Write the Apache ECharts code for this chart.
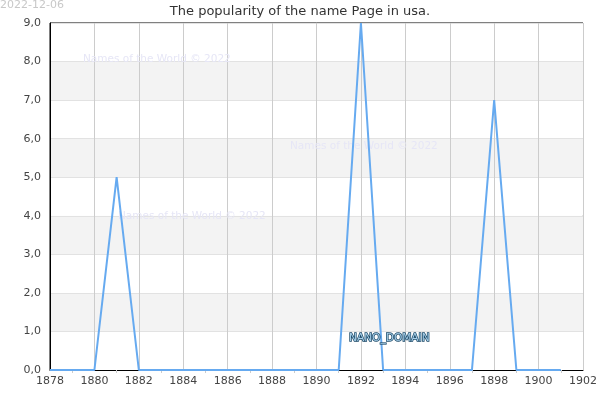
<!DOCTYPE html>
<html>
<head>
<meta charset="utf-8">
<script src="https://cdn.jsdelivr.net/npm/echarts@6/dist/echarts.min.js"></script>
<style>html,body{margin:0;padding:0;background:#fff}#c{width:600px;height:400px}</style>
</head>
<body>
<div id="c"></div>
<script>
var years = [1878,1879,1880,1881,1882,1883,1884,1885,1886,1887,1888,1889,1890,1891,1892,1893,1894,1895,1896,1897,1898,1899,1900,1901];
var counts = [0,0,0,5,0,0,0,0,0,0,0,0,0,0,9,0,0,0,0,0,7,0,0,0];
var titleText = 'The popularity of the name Page in usa.';
var dateText = '2022-12-06';
var watermarkText = 'Names of the World © 2022';
var domainText = 'NANO_DOMAIN';

var chart = echarts.init(document.getElementById('c'));
var font = 'DejaVu Sans';
chart.setOption({
  animation: false,
  textStyle: {fontFamily: font},
  title: {text: titleText, left: 'center', top: 0, textStyle: {fontSize: 13, fontWeight: 'normal', color: '#333', fontFamily: font}},
  grid: {left: 50, right: 15, top: 23, bottom: 30, show: true, borderColor: '#000', borderWidth: 1, backgroundColor: 'transparent'},
  graphic: {
    elements: [
      {type: 'text', left: 0, top: 0, z: 100, style: {text: dateText, fill: '#c8c8c8', fontSize: 11, fontFamily: font}},
      {type: 'text', x: 83, y: 54, z: 1, style: {text: watermarkText, fill: '#e6e6f6', fontSize: 10.5, fontFamily: font}},
      {type: 'text', x: 290, y: 141, z: 1, style: {text: watermarkText, fill: '#e6e6f6', fontSize: 10.5, fontFamily: font}},
      {type: 'text', x: 118, y: 211, z: 1, style: {text: watermarkText, fill: '#e6e6f6', fontSize: 10.5, fontFamily: font}},
      {type: 'text', x: 349, y: 333, z: 100, style: {text: domainText, fill: '#a8d0ea', stroke: '#1d4a68', lineWidth: 1.5, fontSize: 10.6, fontFamily: font}}
    ]
  },
  xAxis: {
    type: 'value', min: 1878, max: 1902, interval: 2,
    axisLine: {show: true, onZero: false, lineStyle: {color: '#000', width: 1}},
    axisTick: {show: false},
    minorTick: {show: true, splitNumber: 2, length: 3, lineStyle: {color: '#ccc'}},
    axisLabel: {color: '#444', fontSize: 11, margin: 6, formatter: function (v) { return String(v); }},
    splitLine: {show: true, lineStyle: {color: '#cccccc', width: 1}}
  },
  yAxis: {
    type: 'value', min: 0, max: 9, interval: 1,
    axisLine: {show: true, lineStyle: {color: '#000', width: 1}},
    axisTick: {show: false},
    axisLabel: {color: '#444', fontSize: 11, margin: 9, formatter: function (v) { return v.toFixed(1).replace('.', ','); }},
    splitLine: {show: true, lineStyle: {color: '#e2e2e2', width: 1}},
    splitArea: {show: true, areaStyle: {color: ['#ffffff', '#f3f3f3']}}
  },
  series: [{
    type: 'line',
    data: years.map(function (y, i) { return [y, counts[i]]; }),
    symbol: 'none',
    lineStyle: {color: '#66aaf0', width: 2},
    z: 5
  }]
});
</script>
</body>
</html>
